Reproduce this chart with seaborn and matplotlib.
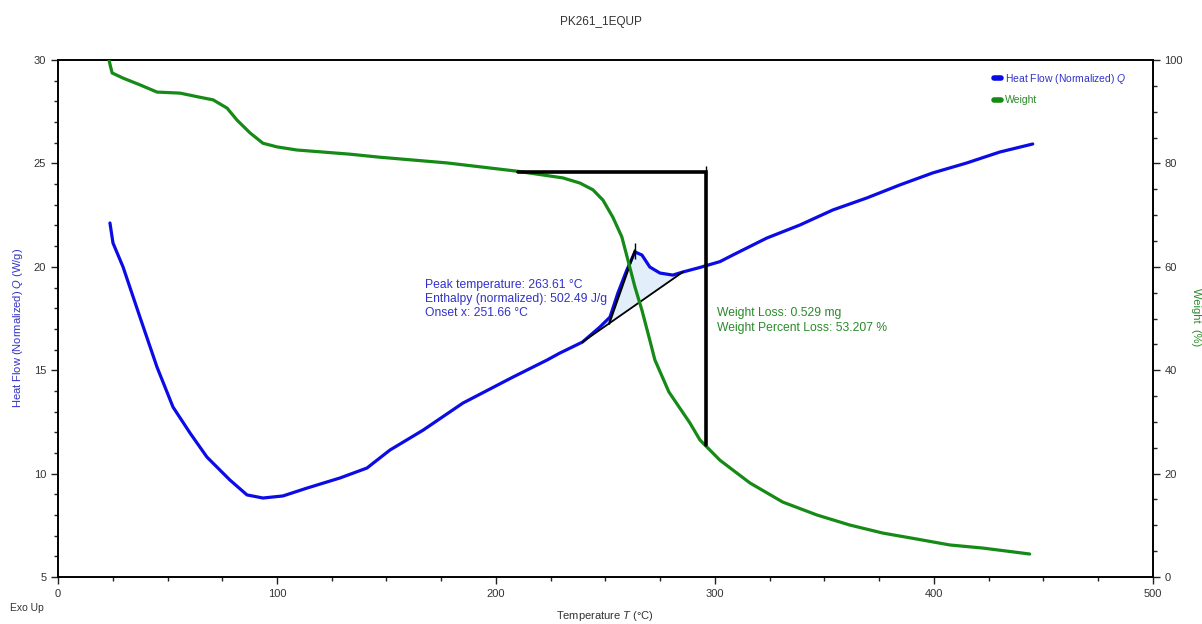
import matplotlib
matplotlib.use("Agg")
import matplotlib.pyplot as plt
import seaborn as sns
import numpy as np
import pandas as pd
from matplotlib.lines import Line2D
from matplotlib.ticker import MultipleLocator

# ---- data ----
weight_T = [23.3, 23.7, 24.7, 29.7, 37.4, 45.2, 55.7, 64.8, 70.8, 77.2, 81.7, 87.7, 93.6,
            100, 109, 121, 133, 147, 177.6, 209.6, 230.6, 238.4, 244.3, 248.9, 253.4,
            257.5, 260.3, 263.5, 266.7, 270.3, 272.6, 279, 288.6, 293.2, 302.3, 316, 331,
            346.6, 361.6, 376.7, 392.2, 407.3, 422.4, 443.8]
weight_W = [100, 99.2, 97.5, 96.5, 95.2, 93.8, 93.6, 92.8, 92.3, 90.7, 88.4, 85.9, 83.9,
            83.2, 82.6, 82.2, 81.8, 81.2, 80.1, 78.5, 77.2, 76.2, 74.9, 72.9, 69.6,
            65.8, 61.3, 56.1, 51.6, 45.8, 42.0, 35.8, 29.8, 26.5, 22.6, 18.2, 14.5,
            12.0, 10.06, 8.5, 7.35, 6.2, 5.6, 4.45]

heat_T = [23.7, 25.1, 29.7, 37.4, 45.2, 52.5, 60.3, 68, 78.5, 86.3, 93.6, 102.7, 113.7,
          128.8, 141.1, 151.6, 166.7, 184.9, 207.8, 223.3, 229.2, 239.5, 247.5, 252.1,
          255.7, 259.8, 263.5, 266.7, 270.3, 274.9, 280.8, 285.4, 293.2, 302.3, 308.2,
          323.7, 338.8, 353.9, 369.4, 384.5, 399.5, 415, 430.1, 445.2]
heat_Q = [22.12, 21.15, 19.99, 17.57, 15.15, 13.22, 11.96, 10.80, 9.69, 8.97, 8.82, 8.92,
          9.30, 9.79, 10.27, 11.14, 12.1, 13.41, 14.67, 15.49, 15.83, 16.36, 17.09, 17.57,
          18.73, 19.85, 20.72, 20.57, 19.99, 19.70, 19.60, 19.75, 19.97, 20.25, 20.57,
          21.39, 22.02, 22.75, 23.33, 23.96, 24.54, 25.02, 25.55, 25.94]

baseline_T = [239.5, 285.4]
baseline_Q = [16.36, 19.75]
tangent_T = [251.66, 263.5]
tangent_Q = [17.24, 20.8]
peak_T, peak_Q = 263.61, 20.75
wl_T = [210.0, 295.8, 295.8]
wl_W = [78.4, 78.4, 25.5]

peak_lines = ["Peak temperature: 263.61 °C", "Enthalpy (normalized): 502.49 J/g", "Onset x: 251.66 °C"]
peak_line_Q = [19.12, 18.44, 17.77]
wl_lines = ["Weight Loss: 0.529 mg", "Weight Percent Loss: 53.207 %"]
wl_line_Q = [17.77, 17.04]

blue = "#0b0be6"
green = "#168a16"
txt_blue = "#3232c8"
txt_green = "#2a8a2a"

sns.set_style("ticks")
plt.rcParams['font.family'] = ['Liberation Sans', 'DejaVu Sans']
plt.rcParams['mathtext.fontset'] = 'custom'
plt.rcParams['mathtext.it'] = 'Liberation Sans:italic'
plt.rcParams['mathtext.rm'] = 'Liberation Sans'

fig = plt.figure(figsize=(12.02, 6.24), dpi=100)
ax = fig.add_axes([0.0483, 0.0753, 0.9107, 0.8285])
ax2 = ax.twinx()

df_h = pd.DataFrame({"T": heat_T, "Q": heat_Q})
df_w = pd.DataFrame({"T": weight_T, "W": weight_W})

# fill between curve and baseline
mask_T = np.linspace(baseline_T[0], baseline_T[1], 100)
curve = np.interp(mask_T, heat_T, heat_Q)
base = np.interp(mask_T, baseline_T, baseline_Q)
ax.fill_between(mask_T, base, curve, color="#e2eef9", zorder=1, lw=0)

sns.lineplot(data=df_h, x="T", y="Q", ax=ax, color=blue, lw=2.3, sort=False, zorder=3)
ax.plot(baseline_T, baseline_Q, color="black", lw=1.3, zorder=4)
ax.plot(tangent_T, tangent_Q, color="black", lw=1.6, zorder=4)
ax.plot([peak_T], [peak_Q], marker="|", color="black", ms=11, mew=1, zorder=5)

sns.lineplot(data=df_w, x="T", y="W", ax=ax2, color=green, lw=2.3, sort=False, zorder=3)
ax2.plot(wl_T, wl_W, color="black", lw=2.6, zorder=4, solid_joinstyle="miter")
ax2.plot([wl_T[1]], [wl_W[0]], marker="|", color="black", ms=9, mew=1, zorder=5)

ax.set_xlim(0, 500)
ax.set_ylim(5, 30)
ax2.set_ylim(0, 100)
ax.set_xticks([0, 100, 200, 300, 400, 500])
ax.set_yticks([5, 10, 15, 20, 25, 30])
ax2.set_yticks([0, 20, 40, 60, 80, 100])
ax.xaxis.set_minor_locator(MultipleLocator(25))
ax.yaxis.set_minor_locator(MultipleLocator(1))
ax2.yaxis.set_minor_locator(MultipleLocator(5))

for a in (ax, ax2):
    a.tick_params(which="major", length=5, width=1, labelsize=8, colors="#222222", labelcolor="#333333", direction="out")
    a.tick_params(which="minor", length=3, width=1, colors="#222222", direction="out")
    for s in a.spines.values():
        s.set_visible(True)
        s.set_color("black")
        s.set_linewidth(1.2)

ax.set_xlabel("")
ax.set_ylabel("")
ax2.set_ylabel("")

fig.text(0.5, 0.965, "PK261_1EQUP", ha="center", va="center", fontsize=8.5, color="#333333")
fig.text(0.503, 0.013, "Temperature $T$ (°C)", ha="center", va="center", fontsize=8, color="#333333")
fig.text(0.008, 0.026, "Exo Up", ha="left", va="center", fontsize=7.5, color="#333333")
fig.text(0.015, 0.474, "Heat Flow (Normalized) $Q$ (W/g)", ha="center", va="center", rotation=90,
         fontsize=8, color=txt_blue)
fig.text(0.995, 0.492, "Weight  (%)", ha="center", va="center", rotation=-90,
         fontsize=8, color=txt_green)

for line, q in zip(peak_lines, peak_line_Q):
    ax.text(167.6, q, line, ha="left", va="center", fontsize=8.7, color=txt_blue)
for line, q in zip(wl_lines, wl_line_Q):
    ax.text(300.9, q, line, ha="left", va="center", fontsize=8.7, color=txt_green)

handles = [Line2D([0], [0], color=blue, lw=4),
           Line2D([0], [0], color=green, lw=4)]
leg = ax.legend(handles, ["Heat Flow (Normalized) $Q$", "Weight"], loc="upper right",
                bbox_to_anchor=(0.985, 0.995), frameon=False, fontsize=7.5, handlelength=0.7,
                handletextpad=0.4, labelspacing=0.9)
for t, c in zip(leg.get_texts(), [txt_blue, txt_green]):
    t.set_color(c)
if ax2.get_legend():
    ax2.get_legend().remove()

fig.savefig("out.png", dpi=100)
